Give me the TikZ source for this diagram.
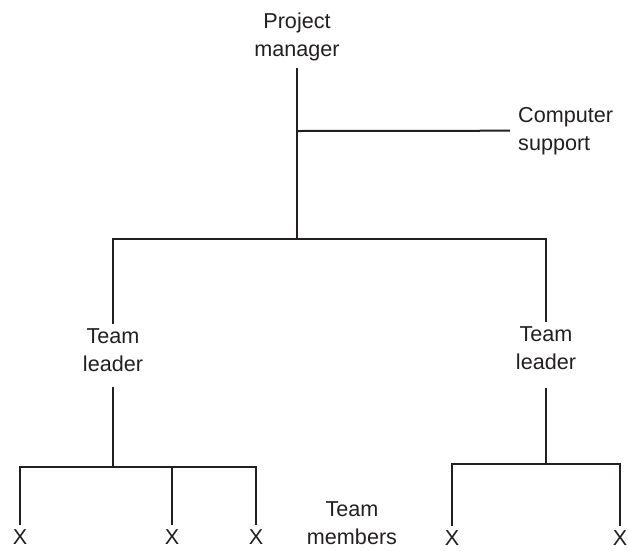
\documentclass[tikz,border=0pt]{standalone}
\usepackage{fontspec}
\setmainfont{Liberation Sans}
\usepackage{xcolor}
\usetikzlibrary{positioning,calc}
\definecolor{inkdark}{HTML}{231F20}
\tikzstyle{orgtext} = [inner sep=0pt, align=center, text=inkdark, font=\fontsize{21.6}{28}\selectfont]
\tikzstyle{link} = [line width=2pt, draw=inkdark, line join=miter]

\begin{document}
\begin{tikzpicture}[x=1pt,y=-1pt]
      \useasboundingbox (0,0) rectangle (628,550);
      % people
      \node[orgtext] (pm) at (297,36.7) {Project\\manager};
      \node[orgtext, anchor=west, align=left] (cs) at (518,130.7) {Computer\\support};
      \node[orgtext] (tl1) at (113,350.5) {Team\\leader};
      \node[orgtext] (tl2) at (546,348) {Team\\leader};
      \node[orgtext] (tm) at (352,523.5) {Team\\members};
      \node[orgtext] (x1) at (20,537) {X};
      \node[orgtext] (x2) at (172,537) {X};
      \node[orgtext] (x3) at (256,537) {X};
      \node[orgtext] (x4) at (452,538) {X};
      \node[orgtext] (x5) at (620,538) {X};
      % junctions
      \coordinate (j0) at (297,131);
      \coordinate (j1) at (297,239);
      \coordinate (jl) at (113,239);
      \coordinate (jr) at (546,239);
      \coordinate (jl2) at (113,467);
      \coordinate (jr2) at (546,464);
      \coordinate (ml1) at (20,467);
      \coordinate (ml2) at (172,467);
      \coordinate (ml3) at (256,467);
      \coordinate (mr1) at (452,464);
      \coordinate (mr2) at (620,464);
      % lines
      \draw[link] ([yshift=-6.6pt]pm.south)--(j1);
      \draw[link] (j0)--([xshift=-8pt]cs.west);
      \draw[link] ([yshift=5pt]tl1.north)--(jl)--(jr)--([yshift=4pt]tl2.north);
      \draw[link] ([yshift=-15pt]tl1.south)--(jl2);
      \draw[link] ([yshift=-18pt]tl2.south)--(jr2);
      \draw[link] ([yshift=4pt]x1.north)--(ml1)--(ml3)--([yshift=4pt]x3.north);
      \draw[link] (ml2)--([yshift=4pt]x2.north);
      \draw[link] ([yshift=4pt]x4.north)--(mr1)--(mr2)--([yshift=4pt]x5.north);
\end{tikzpicture}
\end{document}
